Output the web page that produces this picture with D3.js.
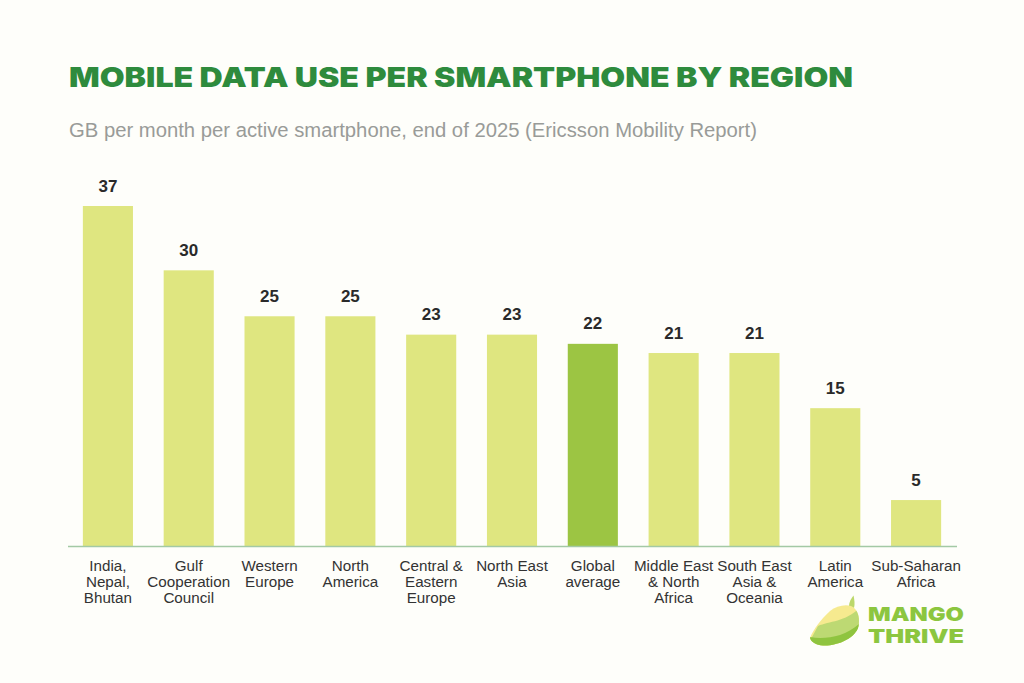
<!DOCTYPE html>
<html>
<head>
<meta charset="utf-8">
<script src="https://d3js.org/d3.v7.min.js"></script>
<style>
  html, body { margin: 0; padding: 0; background: #fefefa; }
  svg { display: block; }
</style>
</head>
<body>
<div id="chart"></div>
<script>
// chart values
var categories = ["India, Nepal, Bhutan", "Gulf Cooperation Council", "Western Europe", "North America",
  "Central & Eastern Europe", "North East Asia", "Global average", "Middle East & North Africa",
  "South East Asia & Oceania", "Latin America", "Sub-Saharan Africa"];
var labelLines = [["India,", "Nepal,", "Bhutan"], ["Gulf", "Cooperation", "Council"], ["Western", "Europe"],
  ["North", "America"], ["Central &", "Eastern", "Europe"], ["North East", "Asia"], ["Global", "average"],
  ["Middle East", "& North", "Africa"], ["South East", "Asia &", "Oceania"], ["Latin", "America"],
  ["Sub-Saharan", "Africa"]];
var values = [37, 30, 25, 25, 23, 23, 22, 21, 21, 15, 5];
var highlighted = ["Global average"];

var width = 1024, height = 683;
var font = "'Liberation Sans', Arial, sans-serif";

var svg = d3.select("#chart").append("svg")
  .attr("width", width)
  .attr("height", height);

svg.append("rect").attr("width", width).attr("height", height).attr("fill", "#fefefa");

// title and subtitle
svg.append("text")
  .attr("x", 69).attr("y", 87)
  .attr("textLength", 784).attr("lengthAdjust", "spacingAndGlyphs")
  .style("font-family", "Inter, sans-serif").style("font-weight", 900).style("font-size", "27px")
  .attr("fill", "#2e8b3d")
  .text("MOBILE DATA USE PER SMARTPHONE BY REGION");

svg.append("text")
  .attr("x", 69).attr("y", 137)
  .attr("textLength", 688).attr("lengthAdjust", "spacingAndGlyphs")
  .style("font-family", font).style("font-size", "19.5px")
  .attr("fill", "#999b98")
  .text("GB per month per active smartphone, end of 2025 (Ericsson Mobility Report)");

// scales
var x = d3.scaleBand()
  .domain(categories)
  .range([67.5, 956.5])
  .paddingInner(0.38)
  .paddingOuter(0.19);

var y = d3.scaleLinear()
  .domain([0, 37])
  .range([546, 206]);

// bars
svg.append("g").selectAll("rect")
  .data(values)
  .enter().append("rect")
    .attr("x", function(d, i) { return x(categories[i]); })
    .attr("y", function(d) { return y(d); })
    .attr("width", x.bandwidth())
    .attr("height", function(d) { return y(0) - y(d); })
    .attr("fill", function(d, i) { return highlighted.indexOf(categories[i]) >= 0 ? "#9cc543" : "#dfe680"; });

// value labels
svg.append("g").selectAll("text")
  .data(values)
  .enter().append("text")
    .attr("x", function(d, i) { return x(categories[i]) + x.bandwidth() / 2; })
    .attr("y", function(d) { return y(d) - 14.5; })
    .attr("text-anchor", "middle")
    .style("font-family", font).style("font-weight", "bold").style("font-size", "17px")
    .attr("fill", "#2a2a2a")
    .text(function(d) { return d; });

// x axis
var axis = svg.append("g")
  .attr("transform", "translate(0,546)")
  .call(d3.axisBottom(x).tickSize(0).tickPadding(0));

axis.select(".domain").attr("stroke", "#a3c9a5").attr("stroke-width", 1.6);

axis.selectAll(".tick text").each(function(d, i) {
  var t = d3.select(this).text(null).attr("y", 0).attr("dy", null)
    .style("font-family", font).style("font-size", "15.2px").attr("fill", "#333333");
  labelLines[i].forEach(function(line, j) {
    t.append("tspan").attr("x", 0).attr("y", 25 + j * 16).text(line);
  });
});

// logo
var logo = svg.append("g");
var mango = "M851,606 C858,609 860,618 858.5,626 C856,638 838,646 823,645.5 C816,645 811,642 810,638 C813,630 821,619 830,611 C836,606 845,604 851,606 Z";
svg.append("clipPath").attr("id", "mango-clip").append("path").attr("d", mango);
logo.append("path").attr("d", "M849,606 C849,602 851,599 853.5,595.5 C854.5,600 855,604 854,608 Z").attr("fill", "#bcd86a");
var mangoBands = logo.append("g").attr("clip-path", "url(#mango-clip)");
mangoBands.append("rect").attr("x", 805).attr("y", 600).attr("width", 60).attr("height", 50).attr("fill", "#f6ea8f");
mangoBands.append("path").attr("d", "M818,626 C830,621 848,622 862,605 L865,650 L805,650 Z").attr("fill", "#bdd973");
mangoBands.append("path").attr("d", "M805,636 C820,640 845,639 862,621 L865,650 L805,650 Z").attr("fill", "#8fc43f");

logo.selectAll("text")
  .data(["MANGO", "THRIVE"])
  .enter().append("text")
    .attr("x", 868)
    .attr("y", function(d, i) { return 621 + i * 22; })
    .attr("textLength", 96).attr("lengthAdjust", "spacingAndGlyphs")
    .style("font-family", "Inter, sans-serif").style("font-weight", 900).style("font-size", "19px")
    .attr("fill", "#8cc63f")
    .text(function(d) { return d; });
</script>
</body>
</html>
